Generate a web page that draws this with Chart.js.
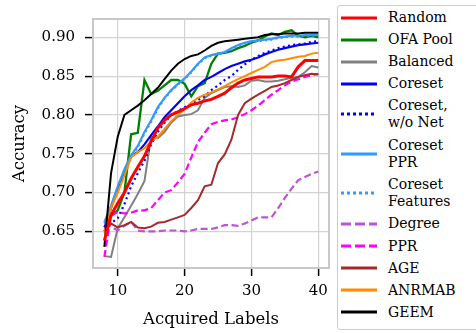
<!DOCTYPE html>
<html>
<head>
<meta charset="utf-8">
<script src="https://cdn.jsdelivr.net/npm/chart.js@4.4.1/dist/chart.umd.min.js"></script>
<style>
  body { margin: 0; width: 476px; height: 333px; overflow: hidden; background: #fff; position: relative; }
  #chart { position: absolute; left: 0; top: 0; }
  #legend {
    position: absolute; left: 337px; top: 5px; width: 145px; height: 325px;
    border: 1.5px solid #cccccc; border-radius: 3px; box-sizing: border-box;
    padding-top: 0.5px; font-family: "DejaVu Serif", serif; font-size: 14px; color: #000;
  }
  .item { display: flex; align-items: center; padding: 2.33px 0; line-height: 17.4px; }
  .item svg { margin-left: 3px; flex: none; }
  .item span { margin-left: 11px; }
</style>
</head>
<body>
<canvas id="chart" width="336" height="333"></canvas>
<div id="legend"></div>
<script>
// acquired labels (x)
var budgets = [8,9,10,11,12,13,14,15,16,17,18,19,20,21,22,23,24,25,26,27,28,29,30,31,32,33,34,35,36,37,38,39,40];
var xTicks = [10, 20, 30, 40];
var yTicks = [0.65, 0.70, 0.75, 0.80, 0.85, 0.90];

var random = [0.638,0.671,0.686,0.700,0.718,0.733,0.747,0.766,0.783,0.793,0.800,0.804,0.808,0.813,0.815,0.818,0.820,0.824,0.828,0.835,0.841,0.845,0.847,0.849,0.849,0.849,0.850,0.850,0.849,0.862,0.870,0.870,0.870];
var ofaPool = [0.650,0.670,0.677,0.700,0.775,0.777,0.845,0.827,0.831,0.838,0.845,0.845,0.840,0.824,0.837,0.841,0.866,0.879,0.880,0.882,0.886,0.889,0.893,0.896,0.901,0.905,0.903,0.907,0.909,0.902,0.900,0.902,0.900];
var balanced = [0.618,0.617,0.654,0.668,0.683,0.698,0.715,0.772,0.770,0.778,0.790,0.798,0.800,0.801,0.806,0.822,0.828,0.832,0.836,0.837,0.836,0.838,0.844,0.845,0.843,0.843,0.844,0.846,0.848,0.849,0.855,0.863,0.861];
var coreset = [0.655,0.680,0.705,0.725,0.747,0.752,0.762,0.774,0.785,0.797,0.806,0.815,0.824,0.832,0.838,0.845,0.849,0.854,0.859,0.863,0.866,0.869,0.871,0.874,0.878,0.881,0.884,0.886,0.888,0.890,0.891,0.892,0.893];
var coresetNoNet = [0.655,0.660,0.667,0.685,0.708,0.725,0.741,0.762,0.778,0.790,0.800,0.805,0.810,0.814,0.819,0.824,0.832,0.838,0.845,0.850,0.858,0.865,0.871,0.876,0.880,0.883,0.886,0.888,0.890,0.891,0.892,0.894,0.895];
var coresetPpr = [0.662,0.683,0.708,0.730,0.748,0.760,0.778,0.793,0.810,0.822,0.832,0.840,0.847,0.856,0.866,0.874,0.877,0.879,0.881,0.886,0.890,0.893,0.895,0.896,0.897,0.898,0.900,0.901,0.902,0.902,0.903,0.903,0.903];
var coresetFeatures = [0.660,0.681,0.706,0.728,0.746,0.758,0.776,0.791,0.808,0.821,0.831,0.839,0.846,0.855,0.865,0.873,0.876,0.878,0.880,0.885,0.889,0.892,0.894,0.895,0.896,0.897,0.899,0.900,0.901,0.901,0.902,0.902,0.902];
var degree = [0.660,0.656,0.651,0.657,0.662,0.651,0.650,0.650,0.650,0.651,0.651,0.651,0.650,0.651,0.653,0.653,0.653,0.655,0.658,0.658,0.657,0.660,0.664,0.668,0.668,0.668,0.680,0.693,0.705,0.716,0.720,0.724,0.727];
var ppr = [0.617,0.670,0.675,0.673,0.674,0.677,0.677,0.680,0.690,0.700,0.703,0.713,0.724,0.745,0.765,0.777,0.788,0.791,0.793,0.794,0.797,0.801,0.806,0.812,0.819,0.826,0.832,0.838,0.843,0.846,0.849,0.851,0.853];
var age = [0.652,0.660,0.655,0.658,0.662,0.655,0.654,0.656,0.661,0.662,0.665,0.668,0.671,0.680,0.690,0.708,0.710,0.738,0.749,0.768,0.800,0.815,0.821,0.826,0.831,0.836,0.838,0.841,0.845,0.849,0.851,0.853,0.852];
var anrmab = [0.648,0.680,0.700,0.722,0.745,0.752,0.757,0.766,0.772,0.782,0.792,0.800,0.807,0.816,0.822,0.826,0.829,0.833,0.837,0.842,0.846,0.850,0.854,0.858,0.862,0.868,0.870,0.871,0.873,0.875,0.876,0.879,0.880];
var geem = [0.630,0.725,0.772,0.800,0.806,0.812,0.819,0.827,0.835,0.846,0.857,0.866,0.872,0.876,0.878,0.883,0.889,0.893,0.895,0.896,0.897,0.898,0.899,0.900,0.903,0.904,0.904,0.905,0.905,0.905,0.906,0.906,0.906];

var series = [
  { name: ["Random"], data: random, color: "#ff0000", width: 3, dash: [] },
  { name: ["OFA Pool"], data: ofaPool, color: "#008000", width: 2.3, dash: [] },
  { name: ["Balanced"], data: balanced, color: "#808080", width: 2, dash: [] },
  { name: ["Coreset"], data: coreset, color: "#0000ff", width: 2.2, dash: [] },
  { name: ["Coreset,", "w/o Net"], data: coresetNoNet, color: "#0000ff", width: 2.2, dash: [2, 3.3] },
  { name: ["Coreset", "PPR"], data: coresetPpr, color: "#3399ff", width: 2.2, dash: [] },
  { name: ["Coreset", "Features"], data: coresetFeatures, color: "#3399ff", width: 2.2, dash: [2, 3.3] },
  { name: ["Degree"], data: degree, color: "#ba55d3", width: 2.2, dash: [7, 3.5] },
  { name: ["PPR"], data: ppr, color: "#ff00ff", width: 2.2, dash: [7, 3.5] },
  { name: ["AGE"], data: age, color: "#a52a2a", width: 2, dash: [] },
  { name: ["ANRMAB"], data: anrmab, color: "#ff8c00", width: 2, dash: [] },
  { name: ["GEEM"], data: geem, color: "#000000", width: 2, dash: [] }
];

// html legend
var legend = document.getElementById("legend");
series.forEach(function (s) {
  var d = document.createElement("div");
  d.className = "item";
  var dash = s.dash.length ? (s.dash[0] > 3 ? "10,4" : "3,3") : "none";
  d.innerHTML = '<svg width="36" height="6"><line x1="0" y1="3" x2="36" y2="3" stroke="' + s.color +
    '" stroke-width="3" stroke-dasharray="' + dash + '"/></svg><span>' + s.name.join("<br>") + '</span>';
  legend.appendChild(d);
});

var frame = {
  id: "frame",
  afterDraw: function (chart) {
    var a = chart.chartArea, ctx = chart.ctx;
    ctx.save();
    ctx.strokeStyle = "#c8c8c8";
    ctx.lineWidth = 2;
    ctx.strokeRect(a.left, a.top, a.right - a.left, a.bottom - a.top);
    ctx.restore();
  }
};

var axisFont = { family: "'DejaVu Serif', serif", size: 15 };

new Chart(document.getElementById("chart"), {
  type: "line",
  data: {
    datasets: series.map(function (s, i) {
      return {
        label: s.name.join(" "),
        data: budgets.map(function (b, j) { return { x: b, y: s.data[j] }; }),
        borderColor: s.color,
        borderWidth: s.width,
        borderDash: s.dash,
        pointRadius: 0,
        tension: 0,
        fill: false,
        order: i === 0 ? 0 : series.length - i
      };
    })
  },
  options: {
    responsive: false,
    animation: false,
    layout: { padding: { top: 10, right: 7, left: 0, bottom: 2 } },
    plugins: { legend: { display: false }, tooltip: { enabled: false } },
    scales: {
      x: {
        type: "linear", min: 6.3, max: 41.6,
        afterBuildTicks: function (s) { s.ticks = xTicks.map(function (v) { return { value: v }; }); },
        afterFit: function (s) { s.height = 63; },
        grid: { color: "#d3d3d3", lineWidth: 1.2, tickColor: "#000", tickLength: 8, tickWidth: 1.5 },
        border: { display: false },
        ticks: { color: "#000", font: axisFont, padding: 6, maxRotation: 0 },
        title: { display: true, text: "Acquired Labels", color: "#000", font: { family: "'DejaVu Serif', serif", size: 16.5 }, padding: { top: 2, bottom: 1 } }
      },
      y: {
        min: 0.6027, max: 0.9236,
        afterBuildTicks: function (s) { s.ticks = yTicks.map(function (v) { return { value: v }; }); },
        afterFit: function (s) { s.width = 93; },
        grid: { color: "#d3d3d3", lineWidth: 1.2, tickColor: "#000", tickLength: 8, tickWidth: 1.5 },
        border: { display: false },
        ticks: { color: "#000", font: axisFont, padding: 10, callback: function (v) { return v.toFixed(2); } },
        title: { display: true, text: "Accuracy", color: "#000", font: { family: "'DejaVu Serif', serif", size: 16.5 }, padding: { top: 10, bottom: 0 } }
      }
    }
  },
  plugins: [frame]
});
</script>
</body>
</html>
